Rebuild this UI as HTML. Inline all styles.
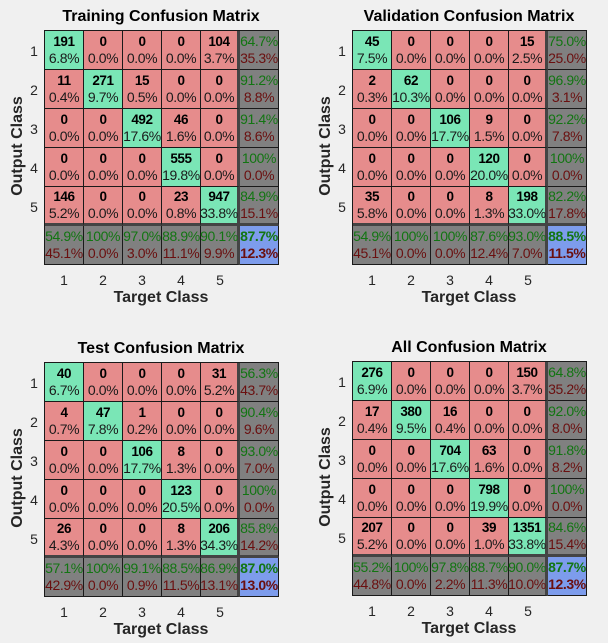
<!DOCTYPE html>
<html><head><meta charset="utf-8"><style>
body{margin:0;width:608px;height:643px;background:#f0f0f0;font-family:"Liberation Sans",Arial,sans-serif;position:relative;overflow:hidden}
.m{position:absolute;width:235px;height:235px;display:grid;grid-template-columns:repeat(6,39px);grid-template-rows:repeat(6,39px);border-left:1px solid #1a1a1a;border-top:1px solid #1a1a1a;box-sizing:border-box}
.m div{box-sizing:border-box;border-right:1px solid #1a1a1a;border-bottom:1px solid #1a1a1a;display:flex;flex-direction:column;align-items:center;justify-content:center;font-size:14px;line-height:17px;color:#1a1a1a;white-space:nowrap;letter-spacing:-0.4px}
.m div b{color:#000;font-size:13.5px}
.m div:nth-child(6n+5){border-right:3px solid #444}
.m div:nth-child(n+25):nth-child(-n+30){border-bottom:3px solid #444}
.g{background:#7ae6b6}.r{background:#e68c8c}.s{background:#808080}.bl{background:#7d9cec}
.s span:first-child,.bl span:first-child{color:#127512}
.s span:last-child,.bl span:last-child{color:#6a0f0f}
.bl span{font-weight:bold}
.t{position:absolute;font-size:16px;font-weight:bold;color:#000;text-align:center;width:300px}
.xl{position:absolute;font-size:16px;font-weight:bold;color:#262626;text-align:center;width:234px}
.yl{position:absolute;font-size:16px;font-weight:bold;color:#262626;transform:rotate(-90deg);width:160px;text-align:center}
.tk{position:absolute;font-size:14px;color:#262626;width:20px;text-align:center}
</style></head><body>

<!-- Training -->
<div class="t" style="left:11px;top:8px">Training Confusion Matrix</div>
<div class="m" style="left:44px;top:30px">
<div class="g"><b>191</b><span>6.8%</span></div><div class="r"><b>0</b><span>0.0%</span></div><div class="r"><b>0</b><span>0.0%</span></div><div class="r"><b>0</b><span>0.0%</span></div><div class="r"><b>104</b><span>3.7%</span></div><div class="s"><span>64.7%</span><span>35.3%</span></div>
<div class="r"><b>11</b><span>0.4%</span></div><div class="g"><b>271</b><span>9.7%</span></div><div class="r"><b>15</b><span>0.5%</span></div><div class="r"><b>0</b><span>0.0%</span></div><div class="r"><b>0</b><span>0.0%</span></div><div class="s"><span>91.2%</span><span>8.8%</span></div>
<div class="r"><b>0</b><span>0.0%</span></div><div class="r"><b>0</b><span>0.0%</span></div><div class="g"><b>492</b><span>17.6%</span></div><div class="r"><b>46</b><span>1.6%</span></div><div class="r"><b>0</b><span>0.0%</span></div><div class="s"><span>91.4%</span><span>8.6%</span></div>
<div class="r"><b>0</b><span>0.0%</span></div><div class="r"><b>0</b><span>0.0%</span></div><div class="r"><b>0</b><span>0.0%</span></div><div class="g"><b>555</b><span>19.8%</span></div><div class="r"><b>0</b><span>0.0%</span></div><div class="s"><span>100%</span><span>0.0%</span></div>
<div class="r"><b>146</b><span>5.2%</span></div><div class="r"><b>0</b><span>0.0%</span></div><div class="r"><b>0</b><span>0.0%</span></div><div class="r"><b>23</b><span>0.8%</span></div><div class="g"><b>947</b><span>33.8%</span></div><div class="s"><span>84.9%</span><span>15.1%</span></div>
<div class="s"><span>54.9%</span><span>45.1%</span></div><div class="s"><span>100%</span><span>0.0%</span></div><div class="s"><span>97.0%</span><span>3.0%</span></div><div class="s"><span>88.9%</span><span>11.1%</span></div><div class="s"><span>90.1%</span><span>9.9%</span></div><div class="bl"><span>87.7%</span><span>12.3%</span></div>
</div>

<!-- Validation -->
<div class="t" style="left:319px;top:8px">Validation Confusion Matrix</div>
<div class="m" style="left:352px;top:30px">
<div class="g"><b>45</b><span>7.5%</span></div><div class="r"><b>0</b><span>0.0%</span></div><div class="r"><b>0</b><span>0.0%</span></div><div class="r"><b>0</b><span>0.0%</span></div><div class="r"><b>15</b><span>2.5%</span></div><div class="s"><span>75.0%</span><span>25.0%</span></div>
<div class="r"><b>2</b><span>0.3%</span></div><div class="g"><b>62</b><span>10.3%</span></div><div class="r"><b>0</b><span>0.0%</span></div><div class="r"><b>0</b><span>0.0%</span></div><div class="r"><b>0</b><span>0.0%</span></div><div class="s"><span>96.9%</span><span>3.1%</span></div>
<div class="r"><b>0</b><span>0.0%</span></div><div class="r"><b>0</b><span>0.0%</span></div><div class="g"><b>106</b><span>17.7%</span></div><div class="r"><b>9</b><span>1.5%</span></div><div class="r"><b>0</b><span>0.0%</span></div><div class="s"><span>92.2%</span><span>7.8%</span></div>
<div class="r"><b>0</b><span>0.0%</span></div><div class="r"><b>0</b><span>0.0%</span></div><div class="r"><b>0</b><span>0.0%</span></div><div class="g"><b>120</b><span>20.0%</span></div><div class="r"><b>0</b><span>0.0%</span></div><div class="s"><span>100%</span><span>0.0%</span></div>
<div class="r"><b>35</b><span>5.8%</span></div><div class="r"><b>0</b><span>0.0%</span></div><div class="r"><b>0</b><span>0.0%</span></div><div class="r"><b>8</b><span>1.3%</span></div><div class="g"><b>198</b><span>33.0%</span></div><div class="s"><span>82.2%</span><span>17.8%</span></div>
<div class="s"><span>54.9%</span><span>45.1%</span></div><div class="s"><span>100%</span><span>0.0%</span></div><div class="s"><span>100%</span><span>0.0%</span></div><div class="s"><span>87.6%</span><span>12.4%</span></div><div class="s"><span>93.0%</span><span>7.0%</span></div><div class="bl"><span>88.5%</span><span>11.5%</span></div>
</div>

<!-- Test -->
<div class="t" style="left:11px;top:340px">Test Confusion Matrix</div>
<div class="m" style="left:44px;top:362px">
<div class="g"><b>40</b><span>6.7%</span></div><div class="r"><b>0</b><span>0.0%</span></div><div class="r"><b>0</b><span>0.0%</span></div><div class="r"><b>0</b><span>0.0%</span></div><div class="r"><b>31</b><span>5.2%</span></div><div class="s"><span>56.3%</span><span>43.7%</span></div>
<div class="r"><b>4</b><span>0.7%</span></div><div class="g"><b>47</b><span>7.8%</span></div><div class="r"><b>1</b><span>0.2%</span></div><div class="r"><b>0</b><span>0.0%</span></div><div class="r"><b>0</b><span>0.0%</span></div><div class="s"><span>90.4%</span><span>9.6%</span></div>
<div class="r"><b>0</b><span>0.0%</span></div><div class="r"><b>0</b><span>0.0%</span></div><div class="g"><b>106</b><span>17.7%</span></div><div class="r"><b>8</b><span>1.3%</span></div><div class="r"><b>0</b><span>0.0%</span></div><div class="s"><span>93.0%</span><span>7.0%</span></div>
<div class="r"><b>0</b><span>0.0%</span></div><div class="r"><b>0</b><span>0.0%</span></div><div class="r"><b>0</b><span>0.0%</span></div><div class="g"><b>123</b><span>20.5%</span></div><div class="r"><b>0</b><span>0.0%</span></div><div class="s"><span>100%</span><span>0.0%</span></div>
<div class="r"><b>26</b><span>4.3%</span></div><div class="r"><b>0</b><span>0.0%</span></div><div class="r"><b>0</b><span>0.0%</span></div><div class="r"><b>8</b><span>1.3%</span></div><div class="g"><b>206</b><span>34.3%</span></div><div class="s"><span>85.8%</span><span>14.2%</span></div>
<div class="s"><span>57.1%</span><span>42.9%</span></div><div class="s"><span>100%</span><span>0.0%</span></div><div class="s"><span>99.1%</span><span>0.9%</span></div><div class="s"><span>88.5%</span><span>11.5%</span></div><div class="s"><span>86.9%</span><span>13.1%</span></div><div class="bl"><span>87.0%</span><span>13.0%</span></div>
</div>

<!-- All -->
<div class="t" style="left:319px;top:339px">All Confusion Matrix</div>
<div class="m" style="left:352px;top:361px">
<div class="g"><b>276</b><span>6.9%</span></div><div class="r"><b>0</b><span>0.0%</span></div><div class="r"><b>0</b><span>0.0%</span></div><div class="r"><b>0</b><span>0.0%</span></div><div class="r"><b>150</b><span>3.7%</span></div><div class="s"><span>64.8%</span><span>35.2%</span></div>
<div class="r"><b>17</b><span>0.4%</span></div><div class="g"><b>380</b><span>9.5%</span></div><div class="r"><b>16</b><span>0.4%</span></div><div class="r"><b>0</b><span>0.0%</span></div><div class="r"><b>0</b><span>0.0%</span></div><div class="s"><span>92.0%</span><span>8.0%</span></div>
<div class="r"><b>0</b><span>0.0%</span></div><div class="r"><b>0</b><span>0.0%</span></div><div class="g"><b>704</b><span>17.6%</span></div><div class="r"><b>63</b><span>1.6%</span></div><div class="r"><b>0</b><span>0.0%</span></div><div class="s"><span>91.8%</span><span>8.2%</span></div>
<div class="r"><b>0</b><span>0.0%</span></div><div class="r"><b>0</b><span>0.0%</span></div><div class="r"><b>0</b><span>0.0%</span></div><div class="g"><b>798</b><span>19.9%</span></div><div class="r"><b>0</b><span>0.0%</span></div><div class="s"><span>100%</span><span>0.0%</span></div>
<div class="r"><b>207</b><span>5.2%</span></div><div class="r"><b>0</b><span>0.0%</span></div><div class="r"><b>0</b><span>0.0%</span></div><div class="r"><b>39</b><span>1.0%</span></div><div class="g"><b>1351</b><span>33.8%</span></div><div class="s"><span>84.6%</span><span>15.4%</span></div>
<div class="s"><span>55.2%</span><span>44.8%</span></div><div class="s"><span>100%</span><span>0.0%</span></div><div class="s"><span>97.8%</span><span>2.2%</span></div><div class="s"><span>88.7%</span><span>11.3%</span></div><div class="s"><span>90.0%</span><span>10.0%</span></div><div class="bl"><span>87.7%</span><span>12.3%</span></div>
</div>

<!-- axis labels & ticks -->
<div class="yl" style="left:-62px;top:137px">Output Class</div>
<div class="yl" style="left:246px;top:137px">Output Class</div>
<div class="yl" style="left:-62px;top:469px">Output Class</div>
<div class="yl" style="left:246px;top:468px">Output Class</div>
<div class="xl" style="left:44px;top:289px">Target Class</div>
<div class="xl" style="left:352px;top:289px">Target Class</div>
<div class="xl" style="left:44px;top:621px">Target Class</div>
<div class="xl" style="left:352px;top:620px">Target Class</div>

<div class="tk" style="left:24px;top:43px">1</div><div class="tk" style="left:24px;top:82px">2</div><div class="tk" style="left:24px;top:121px">3</div><div class="tk" style="left:24px;top:160px">4</div><div class="tk" style="left:24px;top:199px">5</div>
<div class="tk" style="left:54px;top:272px">1</div><div class="tk" style="left:93px;top:272px">2</div><div class="tk" style="left:132px;top:272px">3</div><div class="tk" style="left:171px;top:272px">4</div><div class="tk" style="left:210px;top:272px">5</div>

<div class="tk" style="left:332px;top:43px">1</div><div class="tk" style="left:332px;top:82px">2</div><div class="tk" style="left:332px;top:121px">3</div><div class="tk" style="left:332px;top:160px">4</div><div class="tk" style="left:332px;top:199px">5</div>
<div class="tk" style="left:362px;top:272px">1</div><div class="tk" style="left:401px;top:272px">2</div><div class="tk" style="left:440px;top:272px">3</div><div class="tk" style="left:479px;top:272px">4</div><div class="tk" style="left:518px;top:272px">5</div>

<div class="tk" style="left:24px;top:375px">1</div><div class="tk" style="left:24px;top:414px">2</div><div class="tk" style="left:24px;top:453px">3</div><div class="tk" style="left:24px;top:492px">4</div><div class="tk" style="left:24px;top:531px">5</div>
<div class="tk" style="left:54px;top:604px">1</div><div class="tk" style="left:93px;top:604px">2</div><div class="tk" style="left:132px;top:604px">3</div><div class="tk" style="left:171px;top:604px">4</div><div class="tk" style="left:210px;top:604px">5</div>

<div class="tk" style="left:332px;top:374px">1</div><div class="tk" style="left:332px;top:413px">2</div><div class="tk" style="left:332px;top:452px">3</div><div class="tk" style="left:332px;top:491px">4</div><div class="tk" style="left:332px;top:530px">5</div>
<div class="tk" style="left:362px;top:603px">1</div><div class="tk" style="left:401px;top:603px">2</div><div class="tk" style="left:440px;top:603px">3</div><div class="tk" style="left:479px;top:603px">4</div><div class="tk" style="left:518px;top:603px">5</div>
</body></html>
